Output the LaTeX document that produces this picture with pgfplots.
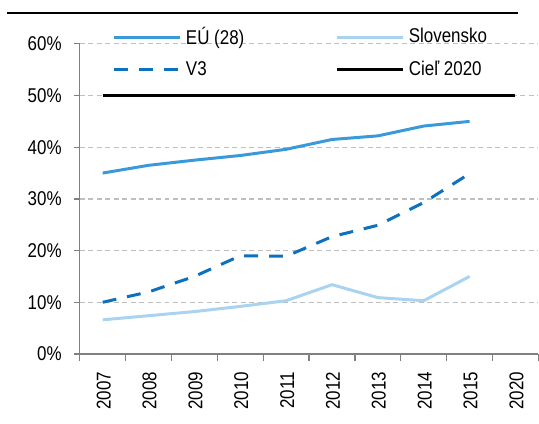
\documentclass[border=0pt]{standalone}
\usepackage{fontspec}
\setmainfont{Liberation Sans}[FakeStretch=0.85]
\usepackage{pgfplots}
\pgfplotsset{compat=1.18}
\definecolor{euline}{HTML}{3A9AD9}
\definecolor{skline}{HTML}{A9D3F0}
\definecolor{vline}{HTML}{0C72C0}
\definecolor{axgray}{HTML}{808080}
\definecolor{gridgray}{HTML}{BFBFBF}

\begin{document}
\fontsize{20bp}{24bp}\selectfont
\begin{tikzpicture}
\begin{axis}[
  at={(0,0)},anchor=south west,
  scale only axis,width=460bp,height=311bp,
  xmin=-0.5,xmax=9.5,ymin=0,ymax=60,
  axis x line*=bottom,axis y line*=left,
  axis line style={axgray,line width=1.2bp,-},
  xtick={0,...,9},
  xticklabels={2007,2008,2009,2010,2011,2012,2013,2014,2015,2020},
  minor xtick={-0.5,0.5,...,9.5},
  major x tick style={draw=none},
  minor tick style={axgray,line width=1.2bp},
  minor tick length=7bp,
  tick align=outside,
  x tick label style={rotate=90,anchor=east,yshift=-1bp,xshift=-4bp},
  ytick={0,10,...,60},
  yticklabel={\pgfmathprintnumber{\tick}\%},
  y tick style={axgray,line width=1.2bp},
  major tick length=6bp,
  y tick label style={xshift=-4bp},
  ymajorgrids,grid style={gridgray,dash pattern=on 5bp off 3.5bp,line width=1.2bp},
  /pgf/number format/assume math mode=true,
  tick label style={font=\fontsize{20bp}{24bp}\selectfont},
  clip=false,
  legend columns=2,
  legend cell align=left,
  legend image code/.code={\draw[#1] (0bp,0bp) -- (66bp,0bp);},
  legend style={draw=none,fill=none,at={(rel axis cs:0.062,1.072)},anchor=north west,
    font=\fontsize{20bp}{24bp}\selectfont,row sep=10bp,
    nodes={inner xsep=4.5bp},
    /tikz/every even column/.append style={column sep=87bp}},
  line width=3bp
]
\addplot[euline] coordinates {
 (0,35.0) (1,36.5) (2,37.5) (3,38.4) (4,39.6) (5,41.5) (6,42.2) (7,44.1) (8,45.0)};
\addlegendentry{EÚ (28)}
\addplot[skline] coordinates {
 (0,6.6) (1,7.4) (2,8.2) (3,9.2) (4,10.3) (5,13.4) (6,10.9) (7,10.3) (8,15.0)};
\addlegendentry{Slovensko}
\addplot[vline,dash pattern=on 14bp off 11bp] coordinates {
 (0,10.0) (1,12.0) (2,15.0) (3,19.0) (4,18.9) (5,22.7) (6,24.9) (7,29.3) (8,34.9)};
\addlegendentry{V3}
\addplot[black] coordinates {(0,50) (9,50)};
\addlegendentry{Cieľ 2020}
\end{axis}
\draw[black,line width=1.8bp] (-73bp,342bp) -- (440bp,342bp);
\path[use as bounding box] (-80bp,-70bp) rectangle (459bp,355bp);
\end{tikzpicture}
\end{document}
